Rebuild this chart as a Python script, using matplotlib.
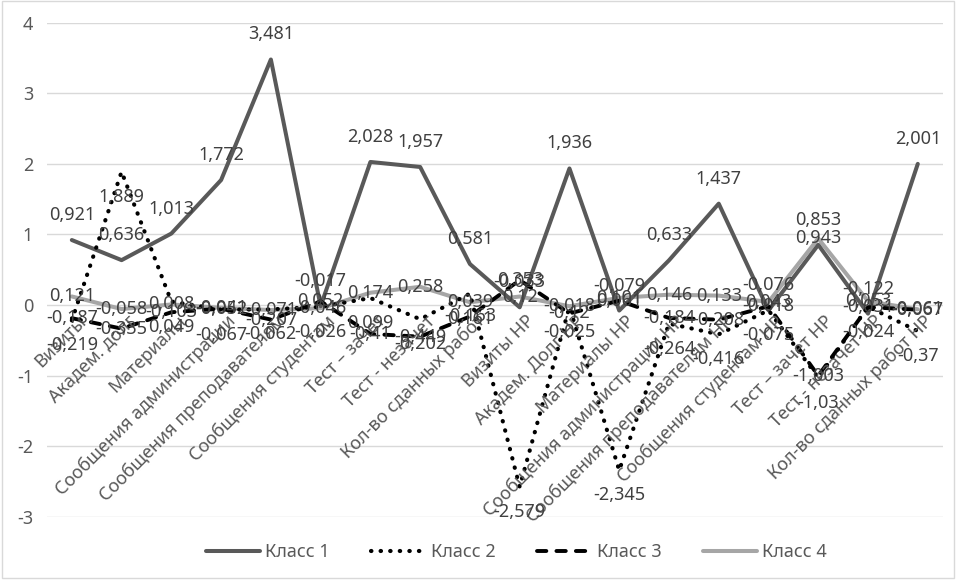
import matplotlib
matplotlib.use("Agg")
import matplotlib.pyplot as plt
from matplotlib.patches import Rectangle

plt.rcParams['font.family'] = ['Noto Sans', 'DejaVu Sans']
plt.rcParams['axes.unicode_minus'] = False

# ==========================
# данные
# ==========================

categories = [
    "Визиты", "Академ. долг", "Материалы", "Сообщения администрации",
    "Сообщения преподавателям", "Сообщения студентам", "Тест – зачет",
    "Тест - незачет", "Кол-во сданных работ", "Визиты НР", "Академ. Долг НР",
    "Материалы НР", "Сообщения администрации НР", "Сообщения преподавателям НР",
    "Сообщения студентам НР", "Тест – зачет НР", "Тест - незачет НР",
    "Кол-во сданных работ НР",
]

class1 = [0.921, 0.636, 1.013, 1.772, 3.481, -0.017, 2.028, 1.957, 0.581,
          -0.033, 1.936, -0.079, 0.633, 1.437, -0.076, 0.853, -0.122, 2.001]
class2 = [-0.219, 1.889, 0.049, -0.067, -0.062, -0.026, 0.099, -0.202, 0.161,
          -2.579, -0.025, -2.345, -0.264, -0.416, -0.075, -1.03, -0.024, -0.37]
class3 = [-0.187, -0.335, -0.103, -0.052, -0.207, 0.052, -0.41, -0.449, -0.163,
          0.353, -0.12, 0.061, -0.184, -0.208, -0.018, -1.003, -0.031, -0.067]
class4 = [0.121, -0.058, 0.008, -0.041, -0.071, -0.046, 0.174, 0.258, 0.039,
          0.12, -0.018, 0.101, 0.146, 0.133, 0.043, 0.943, 0.053, -0.061]

series_names = ["Класс 1", "Класс 2", "Класс 3", "Класс 4"]

TEXT = "#595959"
LABEL = "#404040"
FS = 13


def fmt(v):
    return f"{v:g}".replace(".", ",")


fig = plt.figure(figsize=(9.58, 5.87), dpi=100)
ax = fig.add_axes([0.049, 0.120, 0.935, 0.841])

x = list(range(len(categories)))

ax.plot(x, class4, color="#a6a6a6", lw=2.9, solid_capstyle="round",
        label=series_names[3], zorder=2)
ax.plot(x, class1, color="#595959", lw=2.9, solid_capstyle="round",
        label=series_names[0], zorder=3)
ax.plot(x, class2, color="black", lw=3.0, linestyle=(0, (0.1, 2.2)),
        dash_capstyle="round", label=series_names[1], zorder=4)
ax.plot(x, class3, color="black", lw=2.8, linestyle=(0, (2.4, 2.6)),
        dash_capstyle="round", label=series_names[2], zorder=4)

# подписи данных: класс 1 сверху, класс 2 снизу, классы 3 и 4 по центру
for i in x:
    ax.annotate(fmt(class1[i]), (i, class1[i]), xytext=(0, 18),
                textcoords="offset points", ha="center", va="center",
                fontsize=FS, color=LABEL, zorder=6)
    ax.annotate(fmt(class2[i]), (i, class2[i]), xytext=(0, -18),
                textcoords="offset points", ha="center", va="center",
                fontsize=FS, color=LABEL, zorder=6)
    ax.annotate(fmt(class3[i]), (i, class3[i]), xytext=(0, 0),
                textcoords="offset points", ha="center", va="center",
                fontsize=FS, color=LABEL, zorder=6)
    ax.annotate(fmt(class4[i]), (i, class4[i]), xytext=(0, 0),
                textcoords="offset points", ha="center", va="center",
                fontsize=FS, color=LABEL, zorder=6)

# подписи категорий (под нулевой линией, под углом 45°)
for i, name in enumerate(categories):
    ax.annotate(name, (i, 0), xytext=(4, -5), textcoords="offset points",
                ha="right", va="top", rotation=45, rotation_mode="anchor",
                fontsize=FS, color=TEXT, zorder=5)

# оси
ax.set_xlim(-0.5, len(categories) - 0.5)
ax.set_ylim(-3, 4)
ax.set_xticks([])
ax.set_yticks(range(-3, 5))
ax.set_yticklabels([str(t) for t in range(-3, 5)])
ax.yaxis.grid(True, color="#d9d9d9", lw=1.0)
ax.set_axisbelow(True)
for s in ["top", "right", "left", "bottom"]:
    ax.spines[s].set_visible(False)
ax.tick_params(axis="y", length=0, colors=TEXT, labelsize=FS, pad=10)

# легенда
handles, labels = ax.get_legend_handles_labels()
order = [labels.index(n) for n in series_names]
leg = fig.legend([handles[k] for k in order], [labels[k] for k in order],
                 loc="center", bbox_to_anchor=(0.539, 0.059), ncol=4,
                 frameon=False, fontsize=FS, handlelength=3.0,
                 columnspacing=2.3, handletextpad=0.3)
for t in leg.get_texts():
    t.set_color(TEXT)

# рамка диаграммы
fig.patches.append(Rectangle((0.002, 0.015), 0.994, 0.983, transform=fig.transFigure,
                             fill=False, edgecolor="#d9d9d9", lw=1.0))

fig.savefig("out.png", dpi=100)
